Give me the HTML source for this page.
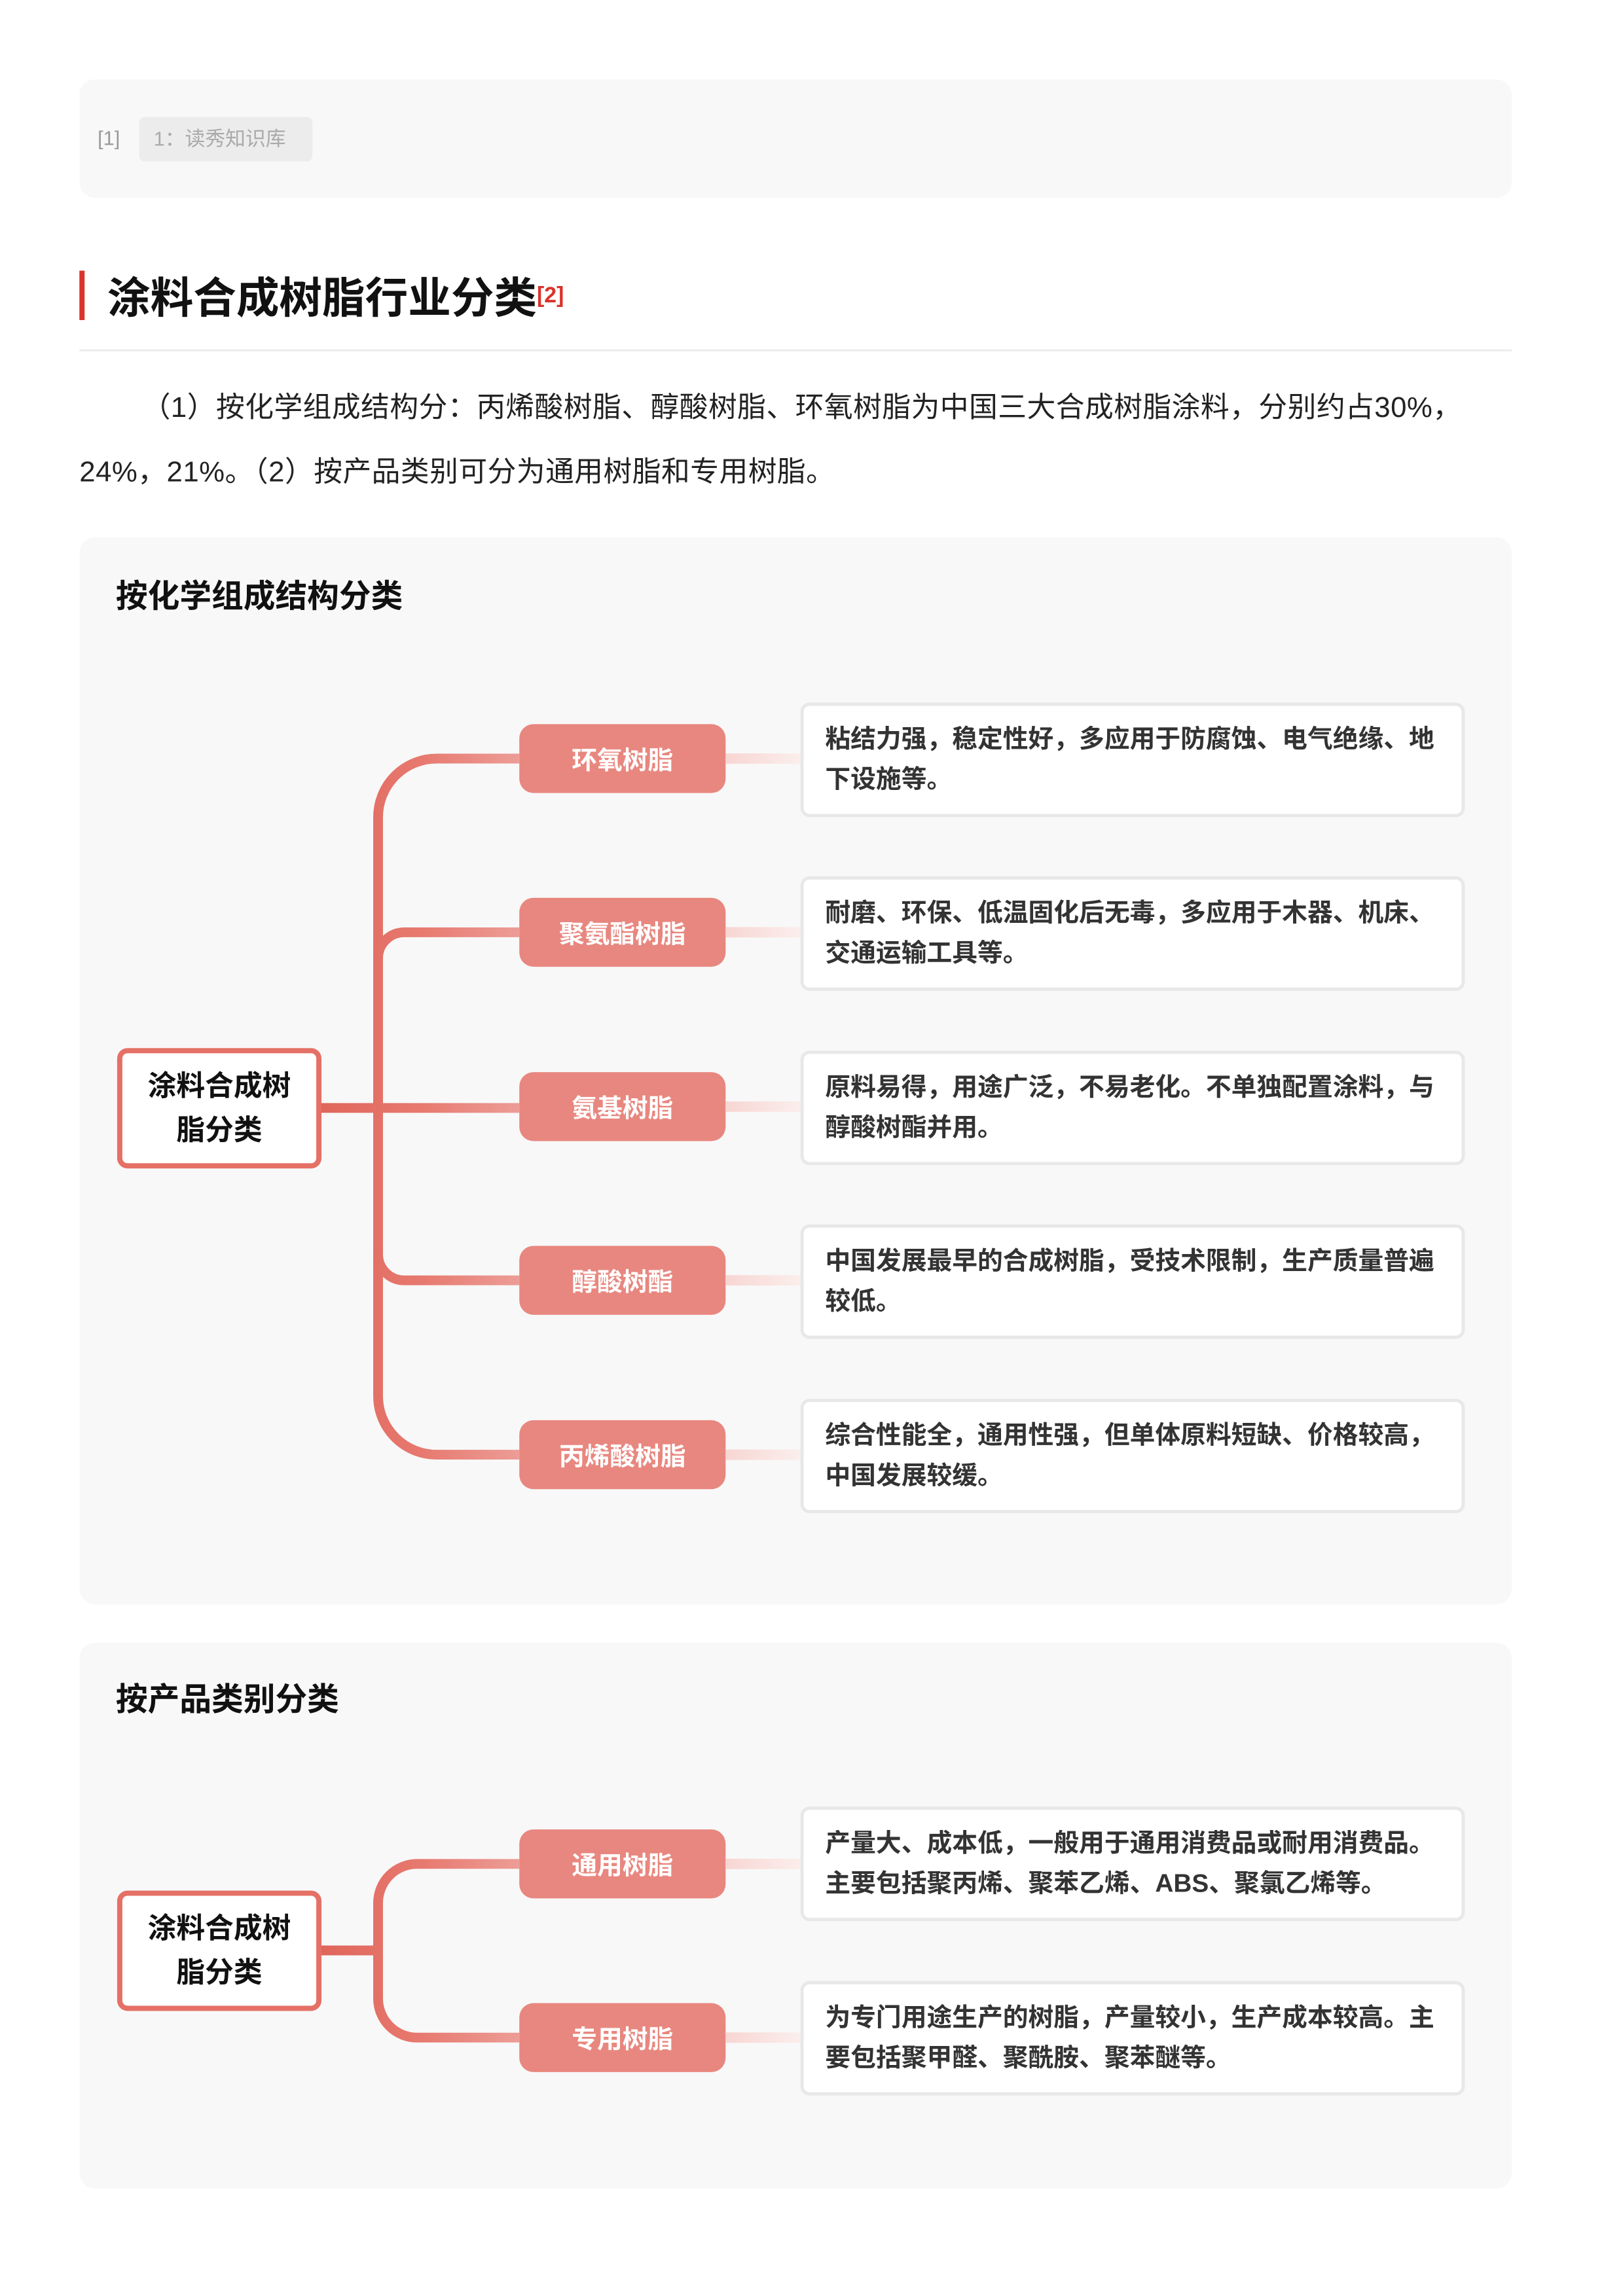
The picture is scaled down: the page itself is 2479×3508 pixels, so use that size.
<!DOCTYPE html>
<html><head><meta charset="utf-8">
<style>
*{margin:0;padding:0;box-sizing:border-box}
body{width:2479px;height:3508px;background:#fff;position:relative;font-family:"Liberation Sans","Noto Sans CJK SC",sans-serif;overflow:hidden}
#w{position:absolute;left:0;top:0;width:2479px;height:3508px;transform:scale(0.994);transform-origin:0 0}
.a{position:absolute}
.panel{position:absolute;left:122px;width:2201px;background:#f8f8f8;border-radius:24px}
.ptitle{position:absolute;left:178px;font-size:49px;font-weight:bold;color:#111;line-height:1}
.root{position:absolute;left:180px;width:314px;height:185px;border:8px solid #e57066;border-radius:16px;background:#fff;display:flex;align-items:center;justify-content:center;text-align:center;font-size:44px;font-weight:bold;line-height:68px;color:#111}
.node{position:absolute;left:798px;width:317px;height:106px;background:#e8877f;border-radius:22px;color:#fff;font-size:39px;font-weight:bold;display:flex;align-items:center;justify-content:center}
.desc{position:absolute;left:1230px;width:1021px;height:176px;border:5px solid #e8e8e8;border-radius:14px;background:#fff;padding:0 0 0 33px;display:flex;align-items:center;font-size:39px;font-weight:bold;color:#333;line-height:62px;white-space:nowrap}
.fade{position:absolute;left:1115px;width:115px;height:16px;background:linear-gradient(to right,#f7d6d3,#fbeeec)}
svg{position:absolute;left:0;top:0}
</style></head><body><div id="w">
<div class="panel" style="top:122px;height:182px"></div>
<div class="a" style="left:150px;top:195px;font-size:31px;color:#999">[1]</div>
<div class="a" style="left:214px;top:180px;width:266px;height:68px;background:#ececec;border-radius:8px;font-size:31px;color:#aaa;line-height:68px;padding-left:22px">1：读秀知识库</div>

<div class="a" style="left:122px;top:416px;width:8px;height:76px;background:#d9342b"></div>
<div class="a" style="left:165px;top:420px;font-size:66px;font-weight:bold;color:#111;line-height:76px">涂料合成树脂行业分类<sup style="font-size:34px;color:#d9342b;font-weight:bold;vertical-align:top;position:relative;top:-4px">[2]</sup></div>
<div class="a" style="left:122px;top:537px;width:2201px;height:3px;background:#ececec"></div>
<div class="a" style="left:122px;top:577px;width:2230px;font-size:44px;color:#222;line-height:99px;white-space:nowrap;text-indent:96px;letter-spacing:0.5px">（1）按化学组成结构分：丙烯酸树脂、醇酸树脂、环氧树脂为中国三大合成树脂涂料，分别约占30%，<br><span style="text-indent:0">24%，21%。（2）按产品类别可分为通用树脂和专用树脂。</span></div>

<div class="panel" style="top:826px;height:1640px"></div>
<div class="ptitle" style="top:893px">按化学组成结构分类</div>
<div class="panel" style="top:2525px;height:839px"></div>
<div class="ptitle" style="top:2589px">按产品类别分类</div>

<svg width="2479" height="3508">
<defs>
<linearGradient id="g" gradientUnits="userSpaceOnUse" x1="494" y1="0" x2="798" y2="0">
<stop offset="0" stop-color="#e0665b"/><stop offset="0.5" stop-color="#e7796f"/><stop offset="1" stop-color="#ec9d96"/></linearGradient>
</defs>
<g fill="none" stroke="url(#g)" stroke-width="15">
<path d="M798,1166 H671 A90,90 0 0 0 581,1256 V2146 A90,90 0 0 0 671,2236 H798"/>
<path d="M798,1433 H621 A40,40 0 0 0 581,1473"/>
<path d="M798,1968 H621 A40,40 0 0 1 581,1928"/>
<path d="M490,1703 H798"/>
<path d="M798,2865 H641 A60,60 0 0 0 581,2925 V3072 A60,60 0 0 0 641,3132 H798"/>
<path d="M490,2998 H581"/>
</g>
</svg>

<div class="root" style="top:1611px">涂料合成树<br>脂分类</div>
<div class="root" style="top:2906px">涂料合成树<br>脂分类</div>

<div class="node" style="top:1113px">环氧树脂</div>
<div class="node" style="top:1380px">聚氨酯树脂</div>
<div class="node" style="top:1648px">氨基树脂</div>
<div class="node" style="top:1915px">醇酸树酯</div>
<div class="node" style="top:2183px">丙烯酸树脂</div>
<div class="node" style="top:2812px">通用树脂</div>
<div class="node" style="top:3079px">专用树脂</div>

<div class="fade" style="top:1158px"></div>
<div class="fade" style="top:1425px"></div>
<div class="fade" style="top:1693px"></div>
<div class="fade" style="top:1960px"></div>
<div class="fade" style="top:2228px"></div>
<div class="fade" style="top:2857px"></div>
<div class="fade" style="top:3124px"></div>

<div class="desc" style="top:1080px">粘结力强，稳定性好，多应用于防腐蚀、电气绝缘、地<br>下设施等。</div>
<div class="desc" style="top:1347px">耐磨、环保、低温固化后无毒，多应用于木器、机床、<br>交通运输工具等。</div>
<div class="desc" style="top:1615px">原料易得，用途广泛，不易老化。不单独配置涂料，与<br>醇酸树酯并用。</div>
<div class="desc" style="top:1882px">中国发展最早的合成树脂，受技术限制，生产质量普遍<br>较低。</div>
<div class="desc" style="top:2150px">综合性能全，通用性强，但单体原料短缺、价格较高，<br>中国发展较缓。</div>
<div class="desc" style="top:2777px">产量大、成本低，一般用于通用消费品或耐用消费品。<br>主要包括聚丙烯、聚苯乙烯、ABS、聚氯乙烯等。</div>
<div class="desc" style="top:3045px">为专门用途生产的树脂，产量较小，生产成本较高。主<br>要包括聚甲醛、聚酰胺、聚苯醚等。</div>
</div></body></html>
